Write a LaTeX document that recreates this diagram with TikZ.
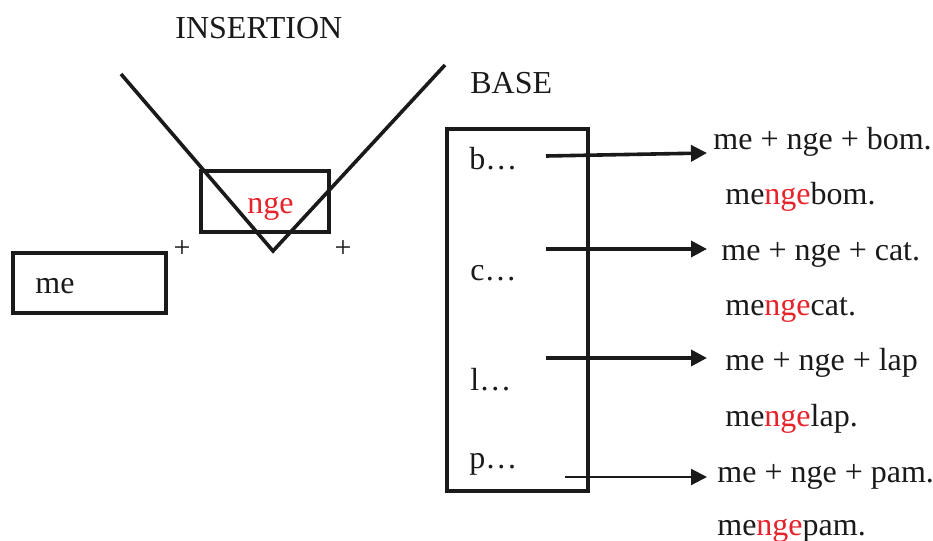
\documentclass[tikz,border=0pt]{standalone}
\usepackage{fontspec}
\setmainfont{Liberation Serif}
\usepackage{xcolor}
\usepackage{tikz}
\usetikzlibrary{arrows.meta}
\definecolor{NgeRed}{HTML}{E6232B}
\definecolor{InkBlack}{HTML}{1A1A1A}

\begin{document}
\begin{tikzpicture}[
    x=0.5pt, y=-0.5pt,
    lbl/.style={inner sep=0pt, anchor=base west, text=InkBlack,
                font=\fontsize{16}{19}\selectfont},
    plus/.style={inner sep=0pt, text=InkBlack, font=\fontsize{15}{18}\selectfont},
    thickline/.style={line width=1.8pt, draw=InkBlack},
    arr/.style={-{Triangle[length=8pt,width=8pt]}, line width=1.8pt, draw=InkBlack},
    thinarr/.style={arr, line width=1.1pt}
  ]
    \useasboundingbox[fill=white] (0,0) rectangle (933,541);

    % Insertion: the V and the infix box
    \node[lbl] (ins) at (175,38) {INSERTION};
    \draw[thickline] (121,74) -- (273,251) -- (445,65);
    \draw[thickline] (201,171) rectangle (329,232);
    \node[lbl, text=NgeRed] (nge) at (247,213) {nge};
    \node[plus] (plusl) at (182,249) {+};
    \node[plus] (plusr) at (343,249) {+};

    % Prefix box
    \draw[thickline] (13,253) rectangle (166,313);
    \node[lbl] (me) at (35,293) {me};

    % Base column
    \node[lbl] (base) at (470,93) {BASE};
    \draw[thickline] (447,129) rectangle (588,491);
    \node[lbl] (bdots) at (469,169) {b\ldots};
    \node[lbl] (cdots) at (470,280) {c\ldots};
    \node[lbl] (ldots) at (470,390) {l\ldots};
    \node[lbl] (pdots) at (469,468) {p\ldots};

    % Results
    \node[lbl] (bsum) at (713,149) {me + nge + bom.};
    \node[lbl] (bres) at (725,204) {me\textcolor{NgeRed}{nge}bom.};
    \node[lbl] (csum) at (721,260) {me + nge + cat.};
    \node[lbl] (cres) at (725,315) {me\textcolor{NgeRed}{nge}cat.};
    \node[lbl] (lsum) at (725,370) {me + nge + lap};
    \node[lbl] (lres) at (725,426) {me\textcolor{NgeRed}{nge}lap.};
    \node[lbl] (psum) at (717,482) {me + nge + pam.};
    \node[lbl] (pres) at (717,535) {me\textcolor{NgeRed}{nge}pam.};

    % Arrows: base -> results
    \coordinate (bfrom) at (546,156);
    \coordinate (bto)   at (707,153);
    \coordinate (cfrom) at (546,249);
    \coordinate (cto)   at (707,249);
    \coordinate (lfrom) at (546,358);
    \coordinate (lto)   at (707,358);
    \coordinate (pfrom) at (565,477);
    \coordinate (pto)   at (707,477);
    \draw[arr] (bfrom) -- (bto);
    \draw[arr] (cfrom) -- (cto);
    \draw[arr] (lfrom) -- (lto);
    \draw[thinarr] (pfrom) -- (pto);
  \end{tikzpicture}
\end{document}
